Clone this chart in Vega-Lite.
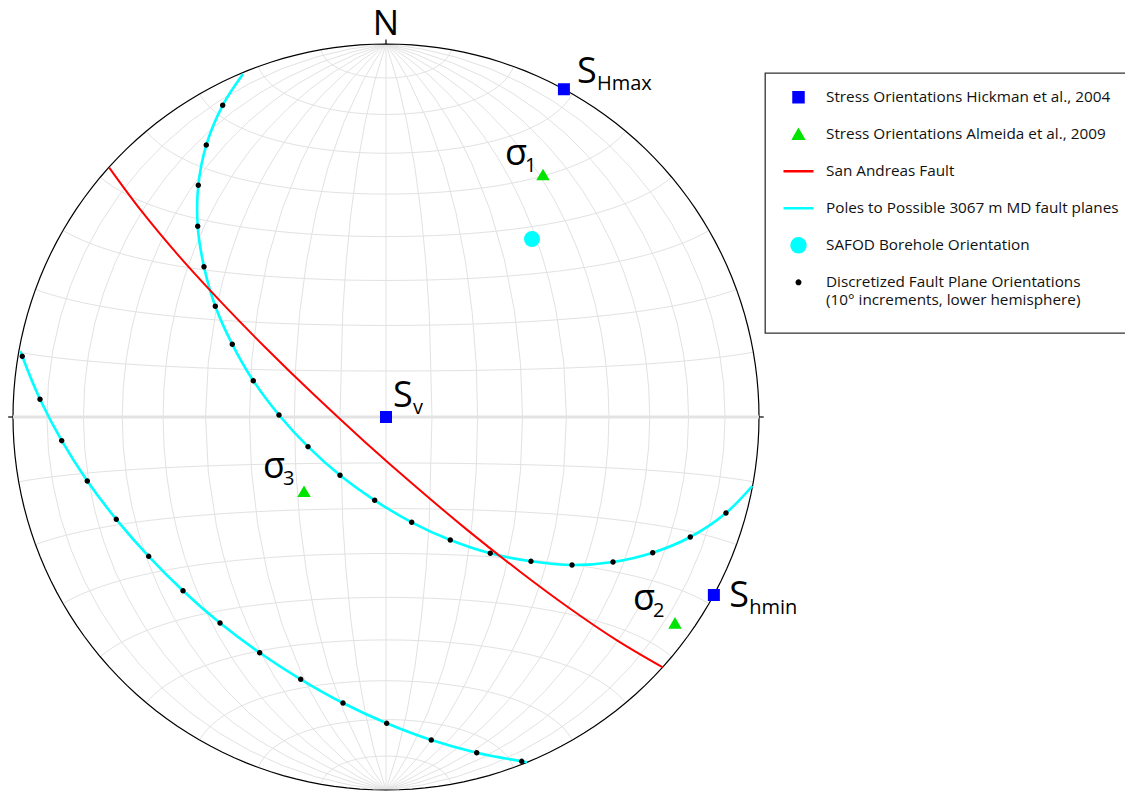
{
  "$schema": "https://vega.github.io/schema/vega-lite/v6.json",
  "width": 746,
  "height": 746,
  "autosize": {"type": "none"},
  "padding": {"left": 13, "top": 44, "right": 366, "bottom": 2},
  "background": "white",
  "config": {
    "view": {"stroke": null},
    "font": "Open Sans",
    "legend": {
      "orient": "none",
      "legendX": 752,
      "legendY": 29,
      "strokeColor": "#333333",
      "strokeWidth": 1.3,
      "fillColor": "white",
      "padding": 7,
      "symbolOffset": 10,
      "labelFont": "Open Sans",
      "labelFontSize": 15.3,
      "labelColor": "#111111",
      "labelLimit": 400,
      "labelOffset": 11,
      "gridAlign": "each",
      "clipHeight": 34.6,
      "rowPadding": 2,
      "symbolStrokeWidth": 2.5
    }
  },
  "datasets": {
    "curves": [
      {"curve": "inner", "series": "Poles to Possible 3067 m MD fault planes", "seq": 1, "x": -0.3834, "y": 0.9196},
      {"curve": "inner", "series": "Poles to Possible 3067 m MD fault planes", "seq": 2, "x": -0.4378, "y": 0.8357},
      {"curve": "inner", "series": "Poles to Possible 3067 m MD fault planes", "seq": 3, "x": -0.4818, "y": 0.7292},
      {"curve": "inner", "series": "Poles to Possible 3067 m MD fault planes", "seq": 4, "x": -0.5032, "y": 0.6212},
      {"curve": "inner", "series": "Poles to Possible 3067 m MD fault planes", "seq": 5, "x": -0.5048, "y": 0.5113},
      {"curve": "inner", "series": "Poles to Possible 3067 m MD fault planes", "seq": 6, "x": -0.4879, "y": 0.4029},
      {"curve": "inner", "series": "Poles to Possible 3067 m MD fault planes", "seq": 7, "x": -0.4576, "y": 0.2968},
      {"curve": "inner", "series": "Poles to Possible 3067 m MD fault planes", "seq": 8, "x": -0.4121, "y": 0.1949},
      {"curve": "inner", "series": "Poles to Possible 3067 m MD fault planes", "seq": 9, "x": -0.3558, "y": 0.0973},
      {"curve": "inner", "series": "Poles to Possible 3067 m MD fault planes", "seq": 10, "x": -0.2869, "y": 0.0054},
      {"curve": "inner", "series": "Poles to Possible 3067 m MD fault planes", "seq": 11, "x": -0.2091, "y": -0.0796},
      {"curve": "inner", "series": "Poles to Possible 3067 m MD fault planes", "seq": 12, "x": -0.1233, "y": -0.1563},
      {"curve": "inner", "series": "Poles to Possible 3067 m MD fault planes", "seq": 13, "x": -0.0303, "y": -0.2233},
      {"curve": "inner", "series": "Poles to Possible 3067 m MD fault planes", "seq": 14, "x": 0.0689, "y": -0.2823},
      {"curve": "inner", "series": "Poles to Possible 3067 m MD fault planes", "seq": 15, "x": 0.1724, "y": -0.3298},
      {"curve": "inner", "series": "Poles to Possible 3067 m MD fault planes", "seq": 16, "x": 0.2796, "y": -0.3654},
      {"curve": "inner", "series": "Poles to Possible 3067 m MD fault planes", "seq": 17, "x": 0.3887, "y": -0.3869},
      {"curve": "inner", "series": "Poles to Possible 3067 m MD fault planes", "seq": 18, "x": 0.4987, "y": -0.3968},
      {"curve": "inner", "series": "Poles to Possible 3067 m MD fault planes", "seq": 19, "x": 0.6086, "y": -0.3887},
      {"curve": "inner", "series": "Poles to Possible 3067 m MD fault planes", "seq": 20, "x": 0.7150, "y": -0.3638},
      {"curve": "inner", "series": "Poles to Possible 3067 m MD fault planes", "seq": 21, "x": 0.8158, "y": -0.3217},
      {"curve": "inner", "series": "Poles to Possible 3067 m MD fault planes", "seq": 22, "x": 0.9115, "y": -0.2574},
      {"curve": "inner", "series": "Poles to Possible 3067 m MD fault planes", "seq": 23, "x": 0.9820, "y": -0.1850},
      {"curve": "outer", "series": "Poles to Possible 3067 m MD fault planes", "seq": 1, "x": -0.9799, "y": 0.1769},
      {"curve": "outer", "series": "Poles to Possible 3067 m MD fault planes", "seq": 2, "x": -0.9751, "y": 0.1627},
      {"curve": "outer", "series": "Poles to Possible 3067 m MD fault planes", "seq": 3, "x": -0.9276, "y": 0.0475},
      {"curve": "outer", "series": "Poles to Possible 3067 m MD fault planes", "seq": 4, "x": -0.8694, "y": -0.0635},
      {"curve": "outer", "series": "Poles to Possible 3067 m MD fault planes", "seq": 5, "x": -0.8008, "y": -0.1716},
      {"curve": "outer", "series": "Poles to Possible 3067 m MD fault planes", "seq": 6, "x": -0.7231, "y": -0.2743},
      {"curve": "outer", "series": "Poles to Possible 3067 m MD fault planes", "seq": 7, "x": -0.6362, "y": -0.3735},
      {"curve": "outer", "series": "Poles to Possible 3067 m MD fault planes", "seq": 8, "x": -0.5442, "y": -0.4657},
      {"curve": "outer", "series": "Poles to Possible 3067 m MD fault planes", "seq": 9, "x": -0.4450, "y": -0.5523},
      {"curve": "outer", "series": "Poles to Possible 3067 m MD fault planes", "seq": 10, "x": -0.3386, "y": -0.6319},
      {"curve": "outer", "series": "Poles to Possible 3067 m MD fault planes", "seq": 11, "x": -0.2287, "y": -0.7032},
      {"curve": "outer", "series": "Poles to Possible 3067 m MD fault planes", "seq": 12, "x": -0.1153, "y": -0.7668},
      {"curve": "outer", "series": "Poles to Possible 3067 m MD fault planes", "seq": 13, "x": 0.0019, "y": -0.8212},
      {"curve": "outer", "series": "Poles to Possible 3067 m MD fault planes", "seq": 14, "x": 0.1214, "y": -0.8660},
      {"curve": "outer", "series": "Poles to Possible 3067 m MD fault planes", "seq": 15, "x": 0.2432, "y": -0.9000},
      {"curve": "outer", "series": "Poles to Possible 3067 m MD fault planes", "seq": 16, "x": 0.3638, "y": -0.9231},
      {"curve": "outer", "series": "Poles to Possible 3067 m MD fault planes", "seq": 17, "x": 0.3780, "y": -0.9255},
      {"curve": "saf", "series": "San Andreas Fault", "seq": 1, "x": -0.7421, "y": 0.6686},
      {"curve": "saf", "series": "San Andreas Fault", "seq": 2, "x": -0.6579, "y": 0.5550},
      {"curve": "saf", "series": "San Andreas Fault", "seq": 3, "x": -0.5590, "y": 0.4359},
      {"curve": "saf", "series": "San Andreas Fault", "seq": 4, "x": -0.4464, "y": 0.3126},
      {"curve": "saf", "series": "San Andreas Fault", "seq": 5, "x": -0.3241, "y": 0.1871},
      {"curve": "saf", "series": "San Andreas Fault", "seq": 6, "x": -0.1936, "y": 0.0601},
      {"curve": "saf", "series": "San Andreas Fault", "seq": 7, "x": -0.0579, "y": -0.0654},
      {"curve": "saf", "series": "San Andreas Fault", "seq": 8, "x": 0.0810, "y": -0.1877},
      {"curve": "saf", "series": "San Andreas Fault", "seq": 9, "x": 0.2201, "y": -0.3046},
      {"curve": "saf", "series": "San Andreas Fault", "seq": 10, "x": 0.3579, "y": -0.4134},
      {"curve": "saf", "series": "San Andreas Fault", "seq": 11, "x": 0.4920, "y": -0.5126},
      {"curve": "saf", "series": "San Andreas Fault", "seq": 12, "x": 0.6204, "y": -0.5995},
      {"curve": "saf", "series": "San Andreas Fault", "seq": 13, "x": 0.7421, "y": -0.6713}
    ],
    "points": [
      {"series": "Discretized Fault Plane Orientations", "x": -0.4378, "y": 0.8357},
      {"series": "Discretized Fault Plane Orientations", "x": -0.4818, "y": 0.7292},
      {"series": "Discretized Fault Plane Orientations", "x": -0.5032, "y": 0.6212},
      {"series": "Discretized Fault Plane Orientations", "x": -0.5048, "y": 0.5113},
      {"series": "Discretized Fault Plane Orientations", "x": -0.4879, "y": 0.4029},
      {"series": "Discretized Fault Plane Orientations", "x": -0.4576, "y": 0.2968},
      {"series": "Discretized Fault Plane Orientations", "x": -0.4121, "y": 0.1949},
      {"series": "Discretized Fault Plane Orientations", "x": -0.3558, "y": 0.0973},
      {"series": "Discretized Fault Plane Orientations", "x": -0.2869, "y": 0.0054},
      {"series": "Discretized Fault Plane Orientations", "x": -0.2091, "y": -0.0796},
      {"series": "Discretized Fault Plane Orientations", "x": -0.1233, "y": -0.1563},
      {"series": "Discretized Fault Plane Orientations", "x": -0.0303, "y": -0.2233},
      {"series": "Discretized Fault Plane Orientations", "x": 0.0689, "y": -0.2823},
      {"series": "Discretized Fault Plane Orientations", "x": 0.1724, "y": -0.3298},
      {"series": "Discretized Fault Plane Orientations", "x": 0.2796, "y": -0.3654},
      {"series": "Discretized Fault Plane Orientations", "x": 0.3887, "y": -0.3869},
      {"series": "Discretized Fault Plane Orientations", "x": 0.4987, "y": -0.3968},
      {"series": "Discretized Fault Plane Orientations", "x": 0.6086, "y": -0.3887},
      {"series": "Discretized Fault Plane Orientations", "x": 0.7150, "y": -0.3638},
      {"series": "Discretized Fault Plane Orientations", "x": 0.8158, "y": -0.3217},
      {"series": "Discretized Fault Plane Orientations", "x": 0.9115, "y": -0.2574},
      {"series": "Discretized Fault Plane Orientations", "x": -0.9751, "y": 0.1627},
      {"series": "Discretized Fault Plane Orientations", "x": -0.9276, "y": 0.0475},
      {"series": "Discretized Fault Plane Orientations", "x": -0.8694, "y": -0.0635},
      {"series": "Discretized Fault Plane Orientations", "x": -0.8008, "y": -0.1716},
      {"series": "Discretized Fault Plane Orientations", "x": -0.7231, "y": -0.2743},
      {"series": "Discretized Fault Plane Orientations", "x": -0.6362, "y": -0.3735},
      {"series": "Discretized Fault Plane Orientations", "x": -0.5442, "y": -0.4657},
      {"series": "Discretized Fault Plane Orientations", "x": -0.4450, "y": -0.5523},
      {"series": "Discretized Fault Plane Orientations", "x": -0.3386, "y": -0.6319},
      {"series": "Discretized Fault Plane Orientations", "x": -0.2287, "y": -0.7032},
      {"series": "Discretized Fault Plane Orientations", "x": -0.1153, "y": -0.7668},
      {"series": "Discretized Fault Plane Orientations", "x": 0.0019, "y": -0.8212},
      {"series": "Discretized Fault Plane Orientations", "x": 0.1214, "y": -0.8660},
      {"series": "Discretized Fault Plane Orientations", "x": 0.2432, "y": -0.9000},
      {"series": "Discretized Fault Plane Orientations", "x": 0.3638, "y": -0.9231},
      {"series": "SAFOD Borehole Orientation", "x": 0.3914, "y": 0.4772},
      {"series": "Stress Orientations Almeida et al., 2009", "x": 0.4209, "y": 0.6488},
      {"series": "Stress Orientations Almeida et al., 2009", "x": 0.7748, "y": -0.5531},
      {"series": "Stress Orientations Almeida et al., 2009", "x": -0.2198, "y": -0.2003},
      {"series": "Stress Orientations Hickman et al., 2004", "x": 0.477, "y": 0.879},
      {"series": "Stress Orientations Hickman et al., 2004", "x": 0.0, "y": 0.0},
      {"series": "Stress Orientations Hickman et al., 2004", "x": 0.879, "y": -0.477}
    ],
    "labels": [
      {"main": "S", "sub": "Hmax", "x": 0.512, "y": 0.895},
      {"main": "σ", "sub": "1", "x": 0.319, "y": 0.676},
      {"main": "S", "sub": "v", "x": 0.0188, "y": 0.0268},
      {"main": "σ", "sub": "3", "x": -0.330, "y": -0.1635},
      {"main": "σ", "sub": "2", "x": 0.662, "y": -0.517},
      {"main": "S", "sub": "hmin", "x": 0.920, "y": -0.509}
    ],
    "north": [{"main": "N", "x": 0.0, "y": 1.024}],
    "equator": [{"x": -1, "x2": 1, "y": 0, "y2": 0}],
    "ticks": [
      {"x": -1.013, "x2": -1, "y": 0, "y2": 0},
      {"x": 1, "x2": 1.013, "y": 0, "y2": 0},
      {"x": 0, "x2": 0, "y": 1, "y2": 1.012}
    ]
  },
  "layer": [
    {
      "data": {"graticule": {"extentMinor": [[-180, -90], [180, 90]], "stepMinor": [10, 10]}},
      "projection": {"type": "azimuthalEqualArea", "clipAngle": 90},
      "mark": {"type": "geoshape", "filled": false, "stroke": "#e2e2e2", "strokeWidth": 1}
    },
    {
      "data": {"sphere": true},
      "projection": {"type": "azimuthalEqualArea", "clipAngle": 90},
      "mark": {"type": "geoshape", "filled": false, "stroke": "#000000", "strokeWidth": 1.2}
    },
    {
      "encoding": {
        "x": {"field": "x", "type": "quantitative", "scale": {"domain": [-1, 1], "nice": false, "zero": false}, "axis": null},
        "y": {"field": "y", "type": "quantitative", "scale": {"domain": [-1, 1], "nice": false, "zero": false}, "axis": null}
      },
      "layer": [
        {
          "data": {"name": "equator"},
          "mark": {"type": "rule", "stroke": "#e3e3e3", "strokeWidth": 3},
          "encoding": {"x2": {"field": "x2"}, "y2": {"field": "y2"}}
        },
        {
          "data": {"name": "ticks"},
          "mark": {"type": "rule", "stroke": "#000000", "strokeWidth": 1.2},
          "encoding": {"x2": {"field": "x2"}, "y2": {"field": "y2"}}
        },
        {
          "data": {"name": "curves"},
          "transform": [{"filter": "datum.curve != 'saf'"}],
          "mark": {"type": "line", "interpolate": "catmull-rom", "strokeWidth": 2.6},
          "encoding": {
            "detail": {"field": "curve"},
            "order": {"field": "seq", "type": "quantitative"},
            "stroke": {
              "field": "series", "type": "nominal",
              "scale": {
                "domain": ["Stress Orientations Hickman et al., 2004", "Stress Orientations Almeida et al., 2009", "San Andreas Fault", "Poles to Possible 3067 m MD fault planes", "SAFOD Borehole Orientation", "Discretized Fault Plane Orientations"],
                "range": ["#0000ff", "#00e400", "#ff0000", "#00ffff", "#00ffff", "#000000"]
              },
              "legend": {"title": null, "labelExpr": "datum.label == 'Discretized Fault Plane Orientations' ? ['Discretized Fault Plane Orientations', '(10° increments, lower hemisphere)', ' '] : datum.label"}
            }
          }
        },
        {
          "data": {"name": "curves"},
          "transform": [{"filter": "datum.curve == 'saf'"}],
          "mark": {"type": "line", "interpolate": "catmull-rom", "strokeWidth": 2},
          "encoding": {
            "order": {"field": "seq", "type": "quantitative"},
            "stroke": {
              "field": "series", "type": "nominal",
              "scale": {
                "domain": ["Stress Orientations Hickman et al., 2004", "Stress Orientations Almeida et al., 2009", "San Andreas Fault", "Poles to Possible 3067 m MD fault planes", "SAFOD Borehole Orientation", "Discretized Fault Plane Orientations"],
                "range": ["#0000ff", "#00e400", "#ff0000", "#00ffff", "#00ffff", "#000000"]
              },
              "legend": {"title": null, "labelExpr": "datum.label == 'Discretized Fault Plane Orientations' ? ['Discretized Fault Plane Orientations', '(10° increments, lower hemisphere)', ' '] : datum.label"}
            }
          }
        },
        {
          "data": {"name": "points"},
          "mark": {"type": "point", "filled": true, "opacity": 1, "strokeWidth": 2},
          "encoding": {
            "fill": {
              "field": "series", "type": "nominal",
              "scale": {
                "domain": ["Stress Orientations Hickman et al., 2004", "Stress Orientations Almeida et al., 2009", "San Andreas Fault", "Poles to Possible 3067 m MD fault planes", "SAFOD Borehole Orientation", "Discretized Fault Plane Orientations"],
                "range": ["#0000ff", "#00e400", "#ff0000", "#00ffff", "#00ffff", "#000000"]
              },
              "legend": {"title": null, "labelExpr": "datum.label == 'Discretized Fault Plane Orientations' ? ['Discretized Fault Plane Orientations', '(10° increments, lower hemisphere)', ' '] : datum.label"}
            },
            "stroke": {
              "field": "series", "type": "nominal",
              "scale": {
                "domain": ["Stress Orientations Hickman et al., 2004", "Stress Orientations Almeida et al., 2009", "San Andreas Fault", "Poles to Possible 3067 m MD fault planes", "SAFOD Borehole Orientation", "Discretized Fault Plane Orientations"],
                "range": ["#0000ff", "#00e400", "#ff0000", "#00ffff", "#00ffff", "#000000"]
              },
              "legend": {"title": null, "labelExpr": "datum.label == 'Discretized Fault Plane Orientations' ? ['Discretized Fault Plane Orientations', '(10° increments, lower hemisphere)', ' '] : datum.label"}
            },
            "shape": {
              "field": "series", "type": "nominal",
              "scale": {
                "domain": ["Stress Orientations Hickman et al., 2004", "Stress Orientations Almeida et al., 2009", "San Andreas Fault", "Poles to Possible 3067 m MD fault planes", "SAFOD Borehole Orientation", "Discretized Fault Plane Orientations"],
                "range": ["square", "triangle-up", "stroke", "stroke", "circle", "circle"]
              },
              "legend": {"title": null, "labelExpr": "datum.label == 'Discretized Fault Plane Orientations' ? ['Discretized Fault Plane Orientations', '(10° increments, lower hemisphere)', ' '] : datum.label"}
            },
            "size": {
              "field": "series", "type": "nominal",
              "scale": {
                "type": "ordinal",
                "domain": ["Stress Orientations Hickman et al., 2004", "Stress Orientations Almeida et al., 2009", "San Andreas Fault", "Poles to Possible 3067 m MD fault planes", "SAFOD Borehole Orientation", "Discretized Fault Plane Orientations"],
                "range": [100, 100, 900, 900, 196, 12]
              },
              "legend": {"title": null, "labelExpr": "datum.label == 'Discretized Fault Plane Orientations' ? ['Discretized Fault Plane Orientations', '(10° increments, lower hemisphere)', ' '] : datum.label"}
            }
          }
        },
        {
          "data": {"name": "labels"},
          "mark": {"type": "text", "font": "Open Sans", "fontSize": 36, "align": "left", "baseline": "alphabetic", "color": "#000000"},
          "encoding": {"text": {"field": "main"}}
        },
        {
          "data": {"name": "labels"},
          "mark": {"type": "text", "font": "Open Sans", "fontSize": 20, "align": "left", "baseline": "alphabetic", "dx": 20, "dy": 7, "color": "#000000"},
          "encoding": {"text": {"field": "sub"}}
        },
        {
          "data": {"name": "north"},
          "mark": {"type": "text", "font": "Open Sans", "fontSize": 35, "align": "center", "baseline": "alphabetic", "color": "#000000"},
          "encoding": {"text": {"field": "main"}}
        }
      ]
    }
  ]
}
